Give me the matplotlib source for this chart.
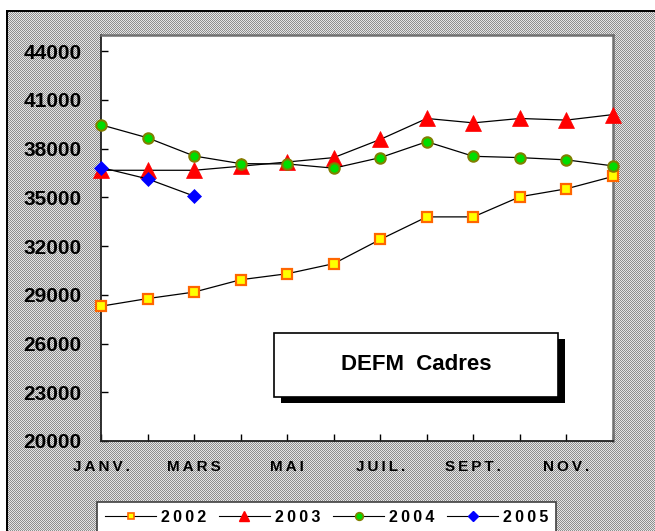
import numpy as np
import matplotlib
matplotlib.use("Agg")
import matplotlib.pyplot as plt
from matplotlib.patches import Rectangle
from matplotlib.lines import Line2D

plt.rcParams['font.family'] = ['Liberation Sans', 'DejaVu Sans']

# ---- data ----
months = ['JANV.', 'FEV.', 'MARS', 'AVR.', 'MAI', 'JUIN', 'JUIL.', 'AOUT', 'SEPT.', 'OCT.', 'NOV.', 'DEC.']
shown_labels = ['JANV.', '', 'MARS', '', 'MAI', '', 'JUIL.', '', 'SEPT.', '', 'NOV.', '']
y2002 = [28300, 28770, 29170, 29930, 30300, 30920, 32410, 33800, 33800, 35040, 35530, 36290]
y2003 = [36670, 36670, 36670, 36920, 37180, 37450, 38570, 39860, 39590, 39860, 39760, 40100]
y2004 = [39470, 38670, 37550, 37080, 37060, 36800, 37450, 38430, 37530, 37450, 37310, 36940]
y2005 = [36840, 36140, 35080]
series_names = ['2002', '2003', '2004', '2005']
yticks = [20000, 23000, 26000, 29000, 32000, 35000, 38000, 41000, 44000]
title_text = 'DEFM  Cadres'

W, H = 655, 531
fig = plt.figure(figsize=(W / 100, H / 100), dpi=100)

# background: white margin, black border, dotted gray pattern
bg = np.ones((H, W, 3))
yy, xx = np.mgrid[0:H, 0:W]
chk = ((xx + yy) % 2 == 0)
pat = np.where(chk[..., None], np.array([0.56, 0.56, 0.56]), np.array([0.90, 0.90, 0.90]))
region = (xx >= 6) & (yy >= 10)
bg[region] = pat[region]
bg[(yy >= 10) & (yy < 12) & (xx >= 6)] = 0.0
bg[(xx >= 6) & (xx < 8) & (yy >= 10)] = 0.0
fig.figimage(bg, xo=0, yo=0, origin='upper', zorder=-10)

def spaced(s):
    return '\u2009'.join(list(s))

ax = fig.add_axes([101 / W, 1 - 441 / H, 512 / W, 406 / H])
ax.set_zorder(1)
ax.set_facecolor('white')
x = np.arange(len(months))

ax.plot(x, y2002, color='black', lw=0.9, marker='s', ms=7, mfc='#FFFF00', mec='#FF6600', mew=1.6, zorder=3)
ax.plot(x, y2003, color='black', lw=0.9, marker='^', ms=11, mfc='#FF0000', mec='#FF0000', mew=0.5, zorder=3)
ax.plot(x, y2004, color='black', lw=0.9, marker='o', ms=7.5, mfc='#00DD00', mec='#808000', mew=1.5, zorder=4)
ax.plot(x[:len(y2005)], y2005, color='black', lw=0.9, marker='D', ms=7.5, mfc='#0000FF', mec='#0000FF', mew=0.5, zorder=5)

ax.set_xlim(0, len(months) - 1)
ax.set_ylim(20000, 45000)
ax.set_yticks(yticks)
ax.set_yticklabels([str(v) for v in yticks], fontsize=15, fontweight='bold')
ax.set_xticks(x)
ax.set_xticklabels([spaced(s) for s in shown_labels], fontsize=11, fontweight='bold')
ax.tick_params(axis='y', direction='in', length=5, width=1, pad=14)
ax.tick_params(axis='x', direction='in', length=5, width=1, pad=14)
for side in ['left', 'bottom']:
    ax.spines[side].set_color('#202020')
    ax.spines[side].set_linewidth(1.3)
for side in ['top', 'right']:
    ax.spines[side].set_color('#707070')
    ax.spines[side].set_linewidth(1.8)
for line in ax.lines:
    line.set_clip_on(False)

# title box with shadow (figure pixel coords)
def fr(px, py):
    return px / W, 1 - py / H

sx, sy = fr(281, 403)
fig.patches.append(Rectangle((sx, sy), (565 - 281) / W, (403 - 339) / H, transform=fig.transFigure,
                             facecolor='black', edgecolor='none', zorder=5))
bx, by = fr(274, 397)
fig.patches.append(Rectangle((bx, by), (558 - 274) / W, (397 - 333) / H, transform=fig.transFigure,
                             facecolor='white', edgecolor='black', lw=1.2, zorder=6))
tx, ty = fr(416, 365)
fig.text(tx, ty, title_text, fontsize=16, fontweight='bold', ha='center', va='center', zorder=7)

# legend
handles = [
    Line2D([], [], color='black', lw=0.8, marker='s', ms=5, mfc='#FFFF00', mec='#FF6600', mew=1.2),
    Line2D([], [], color='black', lw=0.8, marker='^', ms=7, mfc='#FF0000', mec='#FF0000'),
    Line2D([], [], color='black', lw=0.8, marker='o', ms=5.5, mfc='#00DD00', mec='#808000', mew=1.2),
    Line2D([], [], color='black', lw=0.8, marker='D', ms=5.5, mfc='#0000FF', mec='#0000FF'),
]
leg = fig.legend(handles, [spaced(s) for s in series_names], ncol=4, loc='upper left',
                 bbox_to_anchor=(97 / W, 1 - 502 / H), bbox_transform=fig.transFigure,
                 prop={'weight': 'bold', 'size': 11.5}, frameon=True, fancybox=False,
                 edgecolor='#404040', framealpha=1, handlelength=3.2, handletextpad=0.3,
                 columnspacing=0.8, borderpad=0.5, borderaxespad=0)
leg.get_frame().set_linewidth(1.2)
leg.set_zorder(8)

fig.savefig('out.png', dpi=100)
